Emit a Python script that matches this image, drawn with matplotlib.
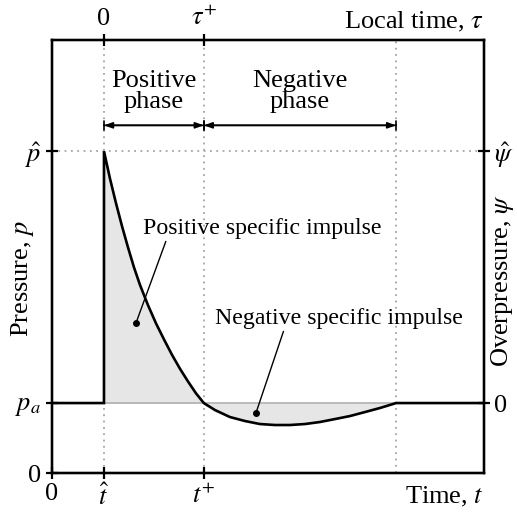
import matplotlib
matplotlib.use("Agg")
import matplotlib.pyplot as plt
import numpy as np

plt.rcParams['font.family'] = ['Liberation Serif', 'DejaVu Serif']
plt.rcParams['mathtext.fontset'] = 'stix'

# Key times / pressures (arbitrary units)
t_hat = 1.0
t_plus = 2.92
t_end = 6.62
x_max = 8.31
p_a = 1.0
p_hat = 4.6
y_max = 6.19

# Pressure curve: positive phase
pos_t = [1.0, 1.115, 1.23, 1.346, 1.46, 1.577, 1.692, 1.846, 2.0, 2.154, 2.308,
         2.462, 2.615, 2.769, 2.92]
pos_p = [4.6, 4.21, 3.86, 3.53, 3.23, 2.94, 2.69, 2.40, 2.14, 1.91, 1.69,
         1.49, 1.31, 1.14, 1.0]
# negative phase
neg_t = [2.92, 3.135, 3.423, 3.712, 4.0, 4.288, 4.577, 4.865, 5.154, 5.442,
         5.731, 6.019, 6.308, 6.62]
neg_p = [1.0, 0.90, 0.80, 0.743, 0.70, 0.686, 0.686, 0.70, 0.729, 0.771,
         0.814, 0.871, 0.929, 1.0]

bottom_ticks = [0, t_hat, t_plus]
bottom_labels = ['0', r'$\hat{t}$', r'$t^{+}$']
top_ticks = [t_hat, t_plus]
top_labels = ['0', r'$\tau^{+}$']
left_ticks = [0, p_a, p_hat]
left_labels = ['0', r'$p_a$', r'$\hat{p}$']
right_ticks = [p_a, p_hat]
right_labels = ['0', r'$\hat{\psi}$']

FS = 19
FSA = 17.2
fig = plt.figure(figsize=(5.17, 5.13), dpi=100)
ax = fig.add_axes([52/517, 1-473/513, (484-52)/517, (473-40)/513])
ax.set_xlim(0, x_max)
ax.set_ylim(0, y_max)

grey = '#a5a5a5'
# dotted guide lines
for xv in [t_hat, t_plus, t_end]:
    ax.plot([xv, xv], [0, y_max], ls=(0, (1, 2.5)), color=grey, lw=1.3, zorder=1)
ax.plot([0, x_max], [p_hat, p_hat], ls=(0, (1, 2.5)), color=grey, lw=1.3, zorder=1)

# shading
all_t = pos_t + neg_t[1:]
all_p = pos_p + neg_p[1:]
ax.fill_between([t_hat] + all_t, [p_a] + all_p, p_a, color='#e6e6e6', lw=0, zorder=2)
ax.plot([t_hat, t_end], [p_a, p_a], color='#b0b0b0', lw=1.2, zorder=3)

# main curve
curve_t = [0, t_hat] + all_t + [x_max]
curve_p = [p_a, p_a] + all_p + [p_a]
ax.plot(curve_t, curve_p, color='black', lw=1.9, zorder=4, solid_joinstyle='miter')

# phase arrows
ya = 4.97
for x0, x1 in [(t_hat, t_plus), (t_plus, t_end)]:
    ax.annotate('', xy=(x0, ya), xytext=(x1, ya),
                arrowprops=dict(arrowstyle='|-|,widthA=0.3,widthB=0.3', lw=1.2,
                                shrinkA=0, shrinkB=0))
    ax.annotate('', xy=(x0, ya), xytext=(x1, ya),
                arrowprops=dict(arrowstyle='<|-|>,head_length=0.5,head_width=0.18', lw=1.2,
                                shrinkA=0, shrinkB=0, color='black'))
ax.text((t_hat + t_plus)/2, 5.45, 'Positive\nphase', ha='center', va='center',
        fontsize=FS, linespacing=0.95)
ax.text((t_plus + t_end)/2, 5.45, 'Negative\nphase', ha='center', va='center',
        fontsize=FS, linespacing=0.95)

# impulse annotations
ax.annotate('Positive specific impulse', xy=(1.615, 2.143), xytext=(1.75, 3.5),
            fontsize=FSA, va='center', ha='left',
            arrowprops=dict(arrowstyle='-', lw=1.0, color='black', shrinkA=0, shrinkB=0,
                            relpos=(0.1, 0.0)))
ax.plot([1.615], [2.143], 'o', color='black', ms=4, zorder=6)
ax.annotate('Negative specific impulse', xy=(3.923, 0.857), xytext=(3.135, 2.214),
            fontsize=FSA, va='center', ha='left',
            arrowprops=dict(arrowstyle='-', lw=1.0, color='black', shrinkA=0, shrinkB=0,
                            relpos=(0.28, 0.0)))
ax.plot([3.923], [0.857], 'o', color='black', ms=4, zorder=6)

# axes / ticks
for s in ax.spines.values():
    s.set_linewidth(1.6)
ax.set_xticks(bottom_ticks)
ax.set_xticklabels(bottom_labels, fontsize=FS)
ax.set_yticks(left_ticks)
ax.set_yticklabels(left_labels, fontsize=FS)
ax.tick_params(direction='inout', length=9, width=1.6, pad=3)

axt = ax.twiny()
axt.set_xlim(ax.get_xlim())
axt.set_xticks(top_ticks)
axt.set_xticklabels(top_labels, fontsize=FS)
axt.tick_params(direction='inout', length=9, width=1.6, pad=3)

axr = ax.twinx()
axr.set_ylim(ax.get_ylim())
axr.set_yticks(right_ticks)
axr.set_yticklabels(right_labels, fontsize=FS)
axr.tick_params(direction='inout', length=9, width=1.6, pad=3)
for a in (axt, axr):
    for s in a.spines.values():
        s.set_linewidth(1.6)

fig.text(484/517, 1-22/513, r'Local time, $\tau$', ha='right', va='center', fontsize=FS)
fig.text(484/517, 1-497/513, r'Time, $t$', ha='right', va='center', fontsize=FS)
fig.text(22/517, 1-278/513, r'Pressure, $p$', ha='center', va='center', rotation=90, fontsize=FS)
fig.text(503/517, 1-280/513, r'Overpressure, $\psi$', ha='center', va='center', rotation=90, fontsize=FS)

fig.savefig('out.png', dpi=100)
